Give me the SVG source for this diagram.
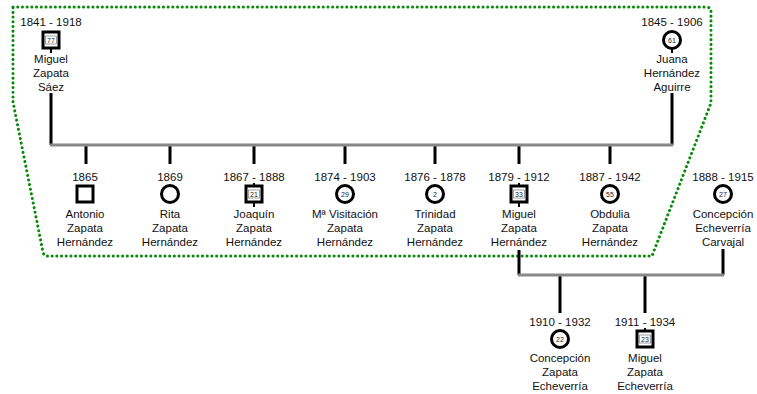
<svg xmlns="http://www.w3.org/2000/svg" width="757" height="394" viewBox="0 0 757 394">
<style>
.t{font-family:"Liberation Sans",Arial,sans-serif;font-size:11.5px;text-anchor:middle;fill:#111}
.n{font-family:"Liberation Sans",Arial,sans-serif;font-size:7px;text-anchor:middle;fill:#222}
.sym{fill:#fff;stroke:#000;stroke-width:3}
.badge{fill:#fff;stroke:#888;stroke-width:0.8}
.v{stroke:#000;stroke-width:3;fill:none}
.tk{stroke:#000;stroke-width:2}
.h{stroke:#888;stroke-width:3;fill:none}
.grp{fill:none;stroke:#0a8a0a;stroke-width:3;stroke-dasharray:0.1 4.6;stroke-linecap:round}
</style>
<rect width="757" height="394" fill="#fff"/>
<path class="grp" d="M13,7 L706,7 Q711,7 711,12 L711,103 L652,256 L47,256 Q44,256 43,252 L13,102 Z"/>
<g id="connectors">
<path class="v" d="M51,93 V145 M672,93 V145"/>
<path class="v" d="M86,146 V164 M170,146 V164 M254,146 V164 M345,146 V164 M435,146 V164 M519,146 V164 M610,146 V164"/>
<path class="v" d="M519,250 V275 M723,249 V275"/>
<path class="v" d="M560,276 V313 M645,276 V313"/>
<path class="h" d="M50,145 H673"/>
<path class="h" d="M518,275 H724"/>
</g>
<g id="miguel-zapata-saez">
<text class="t" x="51" y="26">1841 - 1918</text>
<line class="tk" x1="51" y1="49" x2="51" y2="53"/>
<rect class="sym" x="43" y="32" width="16" height="16"/>
<rect class="badge" x="45.5" y="36" width="11" height="8"/>
<text class="n" x="51" y="42.5">77</text>
<text class="t" x="51" y="63">Miguel</text>
<text class="t" x="51" y="77">Zapata</text>
<text class="t" x="51" y="91">Sáez</text>
</g>
<g id="juana-hernandez-aguirre">
<text class="t" x="672" y="26">1845 - 1906</text>
<line class="tk" x1="672" y1="49" x2="672" y2="53"/>
<circle class="sym" cx="672" cy="40" r="8.5"/>
<text class="n" x="672" y="42.5">61</text>
<text class="t" x="672" y="63">Juana</text>
<text class="t" x="672" y="77">Hernández</text>
<text class="t" x="672" y="91">Aguirre</text>
</g>
<g id="antonio">
<text class="t" x="85" y="181">1865</text>
<rect class="sym" x="77" y="186" width="16" height="16"/>
<text class="t" x="85" y="218">Antonio</text>
<text class="t" x="85" y="232">Zapata</text>
<text class="t" x="85" y="246">Hernández</text>
</g>
<g id="rita">
<text class="t" x="170" y="181">1869</text>
<circle class="sym" cx="170" cy="194" r="8.5"/>
<text class="t" x="170" y="218">Rita</text>
<text class="t" x="170" y="232">Zapata</text>
<text class="t" x="170" y="246">Hernández</text>
</g>
<g id="joaquin">
<text class="t" x="254" y="181">1867 - 1888</text>
<line class="tk" x1="254" y1="183" x2="254" y2="186"/>
<rect class="sym" x="246" y="186" width="16" height="16"/>
<rect class="badge" x="248.5" y="190" width="11" height="8"/>
<text class="n" x="254" y="196.5">21</text>
<line class="tk" x1="254" y1="203" x2="254" y2="207"/>
<text class="t" x="254" y="218">Joaquín</text>
<text class="t" x="254" y="232">Zapata</text>
<text class="t" x="254" y="246">Hernández</text>
</g>
<g id="visitacion">
<text class="t" x="345" y="181">1874 - 1903</text>
<circle class="sym" cx="345" cy="194" r="8.5"/>
<text class="n" x="345" y="196.5">29</text>
<text class="t" x="345" y="218">Mª Visitación</text>
<text class="t" x="345" y="232">Zapata</text>
<text class="t" x="345" y="246">Hernández</text>
</g>
<g id="trinidad">
<text class="t" x="435" y="181">1876 - 1878</text>
<circle class="sym" cx="435" cy="194" r="8.5"/>
<text class="n" x="435" y="196.5">2</text>
<text class="t" x="435" y="218">Trinidad</text>
<text class="t" x="435" y="232">Zapata</text>
<text class="t" x="435" y="246">Hernández</text>
</g>
<g id="miguel-zapata-hernandez">
<text class="t" x="519" y="181">1879 - 1912</text>
<line class="tk" x1="519" y1="183" x2="519" y2="186"/>
<rect class="sym" x="511" y="186" width="16" height="16"/>
<rect class="badge" x="513.5" y="190" width="11" height="8"/>
<text class="n" x="519" y="196.5">33</text>
<line class="tk" x1="519" y1="203" x2="519" y2="207"/>
<text class="t" x="519" y="218">Miguel</text>
<text class="t" x="519" y="232">Zapata</text>
<text class="t" x="519" y="246">Hernández</text>
</g>
<g id="obdulia">
<text class="t" x="610" y="181">1887 - 1942</text>
<circle class="sym" cx="610" cy="194" r="8.5"/>
<text class="n" x="610" y="196.5">55</text>
<text class="t" x="610" y="218">Obdulia</text>
<text class="t" x="610" y="232">Zapata</text>
<text class="t" x="610" y="246">Hernández</text>
</g>
<g id="concepcion-echeverria-carvajal">
<text class="t" x="723" y="181">1888 - 1915</text>
<circle class="sym" cx="723" cy="194" r="8.5"/>
<text class="n" x="723" y="196.5">27</text>
<text class="t" x="723" y="218">Concepción</text>
<text class="t" x="723" y="232">Echeverría</text>
<text class="t" x="723" y="246">Carvajal</text>
</g>
<g id="concepcion-zapata-echeverria">
<text class="t" x="560" y="326">1910 - 1932</text>
<circle class="sym" cx="560" cy="339" r="8.5"/>
<text class="n" x="560" y="341.5">22</text>
<text class="t" x="560" y="362">Concepción</text>
<text class="t" x="560" y="376">Zapata</text>
<text class="t" x="560" y="390">Echeverría</text>
</g>
<g id="miguel-zapata-echeverria">
<text class="t" x="645" y="326">1911 - 1934</text>
<line class="tk" x1="645" y1="328" x2="645" y2="331"/>
<rect class="sym" x="637" y="331" width="16" height="16"/>
<rect class="badge" x="639.5" y="335" width="11" height="8"/>
<text class="n" x="645" y="341.5">23</text>
<text class="t" x="645" y="362">Miguel</text>
<text class="t" x="645" y="376">Zapata</text>
<text class="t" x="645" y="390">Echeverría</text>
</g>
</svg>
